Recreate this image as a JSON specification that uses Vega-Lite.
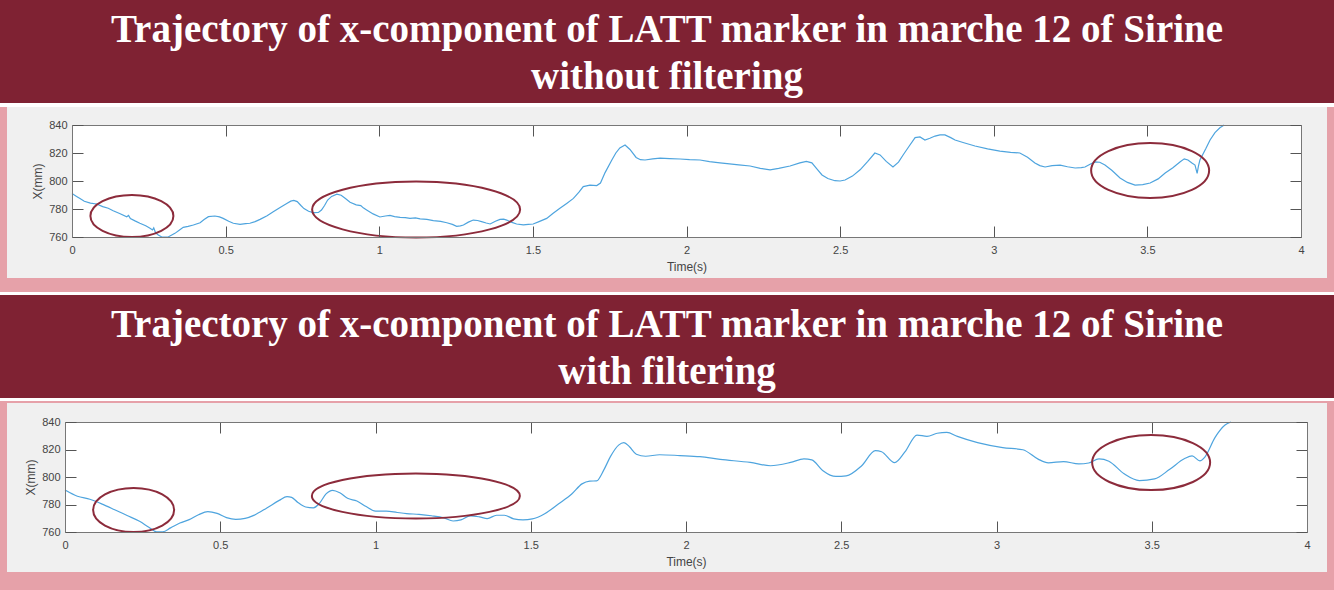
{
  "$schema": "https://vega.github.io/schema/vega-lite/v6.json",
  "background": "#e6a1a9",
  "padding": 0,
  "spacing": 0,
  "bounds": "flush",
  "center": true,
  "config": {"view": {"stroke": null}},
  "datasets": {
    "title1": [
      {"line": 1, "text": "Trajectory of x-component of LATT marker in marche 12 of Sirine"},
      {"line": 2, "text": "without filtering"}
    ],
    "title2": [
      {"line": 1, "text": "Trajectory of x-component of LATT marker in marche 12 of Sirine"},
      {"line": 2, "text": "with filtering"}
    ],
    "raw": [
      {"t":0.000,"v":791},{"t":0.015,"v":789},{"t":0.026,"v":787.5},{"t":0.040,"v":785.5},{"t":0.060,"v":784.2},
      {"t":0.080,"v":783.6},{"t":0.100,"v":781.7},{"t":0.118,"v":780.5},{"t":0.134,"v":778.8},{"t":0.155,"v":776.8},
      {"t":0.178,"v":774.5},{"t":0.184,"v":775.4},{"t":0.190,"v":773.2},{"t":0.205,"v":771.5},{"t":0.221,"v":769.8},
      {"t":0.240,"v":768.0},{"t":0.254,"v":766.2},{"t":0.262,"v":765.0},{"t":0.266,"v":766.5},{"t":0.272,"v":763.0},
      {"t":0.281,"v":761.4},{"t":0.292,"v":760.0},{"t":0.313,"v":760.0},{"t":0.335,"v":762.6},{"t":0.350,"v":765.0},
      {"t":0.362,"v":766.9},{"t":0.378,"v":767.6},{"t":0.395,"v":768.6},{"t":0.417,"v":770.2},{"t":0.430,"v":772.5},
      {"t":0.444,"v":774.5},{"t":0.465,"v":775.0},{"t":0.480,"v":774.4},{"t":0.492,"v":773.3},{"t":0.510,"v":771.2},
      {"t":0.525,"v":769.8},{"t":0.547,"v":769.0},{"t":0.565,"v":769.5},{"t":0.579,"v":769.8},{"t":0.596,"v":771.0},
      {"t":0.612,"v":772.6},{"t":0.635,"v":775.2},{"t":0.655,"v":778.1},{"t":0.680,"v":781.5},{"t":0.699,"v":784.0},
      {"t":0.712,"v":785.6},{"t":0.722,"v":786.2},{"t":0.733,"v":785.3},{"t":0.745,"v":782.5},{"t":0.755,"v":780.3},
      {"t":0.770,"v":778.4},{"t":0.785,"v":777.4},{"t":0.802,"v":777.6},{"t":0.812,"v":779.3},{"t":0.822,"v":782.5},
      {"t":0.832,"v":786.4},{"t":0.845,"v":789.0},{"t":0.862,"v":790.6},{"t":0.876,"v":789.8},{"t":0.890,"v":787.5},
      {"t":0.905,"v":784.8},{"t":0.925,"v":783.0},{"t":0.940,"v":782.4},{"t":0.948,"v":780.8},{"t":0.959,"v":779.3},
      {"t":0.980,"v":776.5},{"t":1.002,"v":774.3},{"t":1.020,"v":775.0},{"t":1.035,"v":775.4},{"t":1.050,"v":774.6},
      {"t":1.068,"v":774.0},{"t":1.085,"v":773.8},{"t":1.100,"v":773.3},{"t":1.118,"v":773.6},{"t":1.133,"v":772.9},
      {"t":1.155,"v":772.6},{"t":1.176,"v":771.7},{"t":1.200,"v":771.2},{"t":1.220,"v":770.2},{"t":1.238,"v":769.0},
      {"t":1.252,"v":767.6},{"t":1.264,"v":768.0},{"t":1.274,"v":768.6},{"t":1.290,"v":770.6},{"t":1.306,"v":772.1},
      {"t":1.320,"v":771.8},{"t":1.333,"v":771.0},{"t":1.348,"v":770.0},{"t":1.361,"v":769.3},{"t":1.378,"v":771.2},
      {"t":1.393,"v":772.6},{"t":1.405,"v":772.8},{"t":1.415,"v":772.1},{"t":1.432,"v":770.4},{"t":1.447,"v":769.3},
      {"t":1.469,"v":768.6},{"t":1.485,"v":769.0},{"t":1.501,"v":769.3},{"t":1.520,"v":771.0},{"t":1.545,"v":773.3},
      {"t":1.565,"v":776.8},{"t":1.588,"v":780.5},{"t":1.610,"v":784.0},{"t":1.632,"v":787.6},{"t":1.650,"v":792.0},
      {"t":1.664,"v":796.0},{"t":1.686,"v":797.1},{"t":1.708,"v":796.7},{"t":1.720,"v":798.5},{"t":1.735,"v":806.0},
      {"t":1.757,"v":815.0},{"t":1.770,"v":820.0},{"t":1.783,"v":823.6},{"t":1.800,"v":825.7},{"t":1.816,"v":822.5},
      {"t":1.836,"v":816.8},{"t":1.850,"v":815.2},{"t":1.865,"v":815.0},{"t":1.890,"v":815.8},{"t":1.914,"v":816.4},
      {"t":1.945,"v":816.0},{"t":1.979,"v":815.7},{"t":2.010,"v":815.2},{"t":2.044,"v":815.0},{"t":2.075,"v":813.8},
      {"t":2.109,"v":812.9},{"t":2.140,"v":812.2},{"t":2.170,"v":811.5},{"t":2.207,"v":810.7},{"t":2.240,"v":809.0},
      {"t":2.272,"v":808.0},{"t":2.300,"v":809.0},{"t":2.337,"v":810.7},{"t":2.369,"v":812.9},{"t":2.390,"v":814.0},
      {"t":2.408,"v":813.0},{"t":2.425,"v":808.5},{"t":2.441,"v":804.3},{"t":2.460,"v":801.8},{"t":2.483,"v":800.2},
      {"t":2.500,"v":800.0},{"t":2.516,"v":800.7},{"t":2.540,"v":803.5},{"t":2.565,"v":808.0},{"t":2.590,"v":814.0},
      {"t":2.613,"v":820.0},{"t":2.630,"v":818.6},{"t":2.650,"v":814.0},{"t":2.672,"v":810.0},{"t":2.690,"v":813.5},
      {"t":2.705,"v":818.6},{"t":2.725,"v":825.0},{"t":2.744,"v":831.0},{"t":2.760,"v":831.5},{"t":2.776,"v":829.3},
      {"t":2.792,"v":830.5},{"t":2.809,"v":832.1},{"t":2.825,"v":833.0},{"t":2.841,"v":832.9},{"t":2.860,"v":831.0},
      {"t":2.874,"v":829.3},{"t":2.900,"v":827.5},{"t":2.939,"v":825.0},{"t":2.980,"v":823.0},{"t":3.020,"v":821.4},
      {"t":3.055,"v":820.5},{"t":3.085,"v":820.0},{"t":3.110,"v":817.0},{"t":3.134,"v":812.9},{"t":3.150,"v":811.0},
      {"t":3.167,"v":810.0},{"t":3.190,"v":811.0},{"t":3.216,"v":811.4},{"t":3.240,"v":810.2},{"t":3.265,"v":809.3},
      {"t":3.285,"v":809.5},{"t":3.297,"v":810.0},{"t":3.315,"v":812.2},{"t":3.330,"v":813.6},{"t":3.345,"v":813.4},
      {"t":3.362,"v":811.4},{"t":3.385,"v":807.5},{"t":3.411,"v":802.1},{"t":3.435,"v":799.0},{"t":3.460,"v":797.1},
      {"t":3.485,"v":797.4},{"t":3.509,"v":798.6},{"t":3.535,"v":801.5},{"t":3.558,"v":805.7},{"t":3.583,"v":809.5},
      {"t":3.606,"v":813.6},{"t":3.620,"v":815.8},{"t":3.632,"v":815.0},{"t":3.645,"v":812.8},{"t":3.655,"v":811.4},
      {"t":3.662,"v":805.5},{"t":3.666,"v":810.5},{"t":3.671,"v":815.0},{"t":3.690,"v":823.0},{"t":3.704,"v":829.3},
      {"t":3.720,"v":834.5},{"t":3.736,"v":838.0},{"t":3.750,"v":840.0}
    ],
    "filtered": [
      {"t":0.000,"v":790.5},{"t":0.040,"v":786},{"t":0.080,"v":783.8},{"t":0.120,"v":780.3},{"t":0.160,"v":776.2},
      {"t":0.200,"v":772},{"t":0.240,"v":767.8},{"t":0.270,"v":763.5},{"t":0.295,"v":760.2},{"t":0.315,"v":760.2},
      {"t":0.340,"v":763},{"t":0.370,"v":766.5},{"t":0.400,"v":769},{"t":0.430,"v":772.5},{"t":0.460,"v":774.8},
      {"t":0.490,"v":773.5},{"t":0.520,"v":770.5},{"t":0.550,"v":769.2},{"t":0.580,"v":769.9},{"t":0.610,"v":772.3},
      {"t":0.650,"v":777.5},{"t":0.690,"v":783},{"t":0.715,"v":785.8},{"t":0.730,"v":785.2},{"t":0.750,"v":781.5},
      {"t":0.775,"v":778.2},{"t":0.800,"v":777.6},{"t":0.820,"v":781},{"t":0.840,"v":787.5},{"t":0.862,"v":790.3},
      {"t":0.885,"v":788.5},{"t":0.910,"v":784.5},{"t":0.940,"v":782.5},{"t":0.970,"v":778.5},{"t":1.000,"v":775.2},
      {"t":1.035,"v":775.2},{"t":1.070,"v":774.2},{"t":1.100,"v":773.4},{"t":1.140,"v":772.8},{"t":1.180,"v":771.8},
      {"t":1.220,"v":770.3},{"t":1.250,"v":768},{"t":1.275,"v":768.8},{"t":1.305,"v":771.8},{"t":1.335,"v":771},
      {"t":1.360,"v":769.8},{"t":1.390,"v":772.2},{"t":1.415,"v":772.2},{"t":1.445,"v":769.6},{"t":1.475,"v":768.8},
      {"t":1.505,"v":769.5},{"t":1.545,"v":773.3},{"t":1.590,"v":780.5},{"t":1.632,"v":787.6},{"t":1.665,"v":795},
      {"t":1.690,"v":797},{"t":1.712,"v":797.2},{"t":1.735,"v":805},{"t":1.757,"v":815},{"t":1.783,"v":823.2},
      {"t":1.800,"v":825},{"t":1.818,"v":822},{"t":1.840,"v":816.6},{"t":1.870,"v":815.1},{"t":1.915,"v":816.2},
      {"t":1.980,"v":815.6},{"t":2.045,"v":814.8},{"t":2.110,"v":812.8},{"t":2.207,"v":810.6},{"t":2.272,"v":808.2},
      {"t":2.337,"v":810.6},{"t":2.380,"v":813.2},{"t":2.405,"v":812.5},{"t":2.440,"v":804.8},{"t":2.483,"v":800.4},
      {"t":2.516,"v":800.8},{"t":2.565,"v":808},{"t":2.610,"v":819.2},{"t":2.630,"v":818.4},{"t":2.672,"v":810.4},
      {"t":2.705,"v":818.2},{"t":2.744,"v":830.5},{"t":2.776,"v":829.6},{"t":2.809,"v":831.8},{"t":2.840,"v":832.5},
      {"t":2.874,"v":829.5},{"t":2.939,"v":825},{"t":3.020,"v":821.4},{"t":3.085,"v":819.8},{"t":3.134,"v":813},
      {"t":3.167,"v":810.3},{"t":3.216,"v":811.2},{"t":3.265,"v":809.5},{"t":3.297,"v":810.2},{"t":3.330,"v":813.2},
      {"t":3.362,"v":811.5},{"t":3.411,"v":802.3},{"t":3.460,"v":797.4},{"t":3.509,"v":798.6},{"t":3.558,"v":805.6},
      {"t":3.606,"v":813.4},{"t":3.630,"v":815.3},{"t":3.655,"v":811.8},{"t":3.671,"v":814.5},{"t":3.704,"v":828.8},
      {"t":3.736,"v":837.8},{"t":3.755,"v":840}
    ]
  },
  "vconcat": [
    {
      "width": 1334, "height": 103,
      "view": {"fill": "#7f2233", "stroke": null},
      "data": {"name": "title1"},
      "mark": {"type": "text", "color": "white", "font": "Liberation Serif", "fontSize": 39, "fontWeight": "bold", "baseline": "middle", "align": "center", "dy": 2},
      "encoding": {
        "text": {"field": "text"},
        "x": {"datum": 0.5, "type": "quantitative", "scale": {"domain": [0, 1]}, "axis": null},
        "y": {"field": "line", "type": "ordinal", "axis": null, "scale": {"type": "point", "padding": 0.596}}
      }
    },
    {
      "width": 1334, "height": 4,
      "view": {"fill": "white", "stroke": null},
      "data": {"values": []}, "mark": "rect", "encoding": {}
    },
    {
      "width": 1320, "height": 171,
      "view": {"fill": "#f0f0f0", "stroke": null},
      "resolve": {"axis": {"x": "independent", "y": "independent"}},
      "layer": [
        {
          "data": {"values": [{}]},
          "mark": {"type": "rect", "fill": "white", "stroke": null},
          "encoding": {
            "x": {"datum": 0, "type": "quantitative", "scale": {"domain": [0, 4], "range": [65, 1294], "nice": false, "zero": false},
                  "axis": {"orient": "top", "offset": -18, "values": [0,0.5,1,1.5,2,2.5,3,3.5,4], "labels": false, "tickSize": -11, "tickColor": "#555", "domainColor": "#777", "title": null, "grid": false, "zindex": 1}},
            "x2": {"datum": 4},
            "y": {"datum": 760, "type": "quantitative", "scale": {"domain": [760, 840], "range": [130, 18], "nice": false, "zero": false},
                  "axis": {"orient": "right", "offset": -26, "values": [760,780,800,820,840], "labels": false, "tickSize": -11, "tickColor": "#555", "domainColor": "#777", "title": null, "grid": false, "zindex": 1}},
            "y2": {"datum": 840}
          }
        },
        {
          "data": {"name": "raw"},
          "mark": {"type": "line", "color": "#4ea4de", "strokeWidth": 1.2, "clip": true},
          "encoding": {
            "x": {"field": "t", "type": "quantitative", "scale": {"domain": [0, 4], "range": [65, 1294], "nice": false, "zero": false},
                  "axis": {"orient": "bottom", "offset": -41, "values": [0,0.5,1,1.5,2,2.5,3,3.5,4], "format": "~g", "tickSize": -11, "tickColor": "#555", "domainColor": "#777", "labelFont": "Liberation Sans", "labelFontSize": 11, "labelColor": "#444", "labelPadding": 18, "labelFlush": false, "labelOverlap": false, "title": "Time(s)", "titleFont": "Liberation Sans", "titleFontSize": 12, "titleFontWeight": "normal", "titleColor": "#444", "titlePadding": 6, "grid": false, "zindex": 1}},
            "y": {"field": "v", "type": "quantitative", "scale": {"domain": [760, 840], "range": [130, 18], "nice": false, "zero": false},
                  "axis": {"orient": "left", "offset": -65, "values": [760,780,800,820,840], "tickSize": -11, "tickColor": "#555", "domainColor": "#777", "labelFont": "Liberation Sans", "labelFontSize": 11, "labelColor": "#444", "labelPadding": 16, "labelFlush": false, "labelOverlap": false, "title": "X(mm)", "titleFont": "Liberation Sans", "titleFontSize": 12, "titleFontWeight": "normal", "titleColor": "#444", "titlePadding": 4, "grid": false, "zindex": 1}}
          }
        },
        {
          "data": {"values": [{"t": 0.195, "v": 775}]},
          "mark": {"type": "point", "shape": "M -41.5 0 A 41.5 21 0 1 1 41.5 0 A 41.5 21 0 1 1 -41.5 0 Z", "size": 4, "filled": false, "stroke": "#8c2b3b", "strokeWidth": 2, "opacity": 1},
          "encoding": {
            "x": {"field": "t", "type": "quantitative", "scale": {"domain": [0, 4], "range": [65, 1294], "nice": false, "zero": false}, "axis": null},
            "y": {"field": "v", "type": "quantitative", "scale": {"domain": [760, 840], "range": [130, 18], "nice": false, "zero": false}, "axis": null}
          }
        },
        {
          "data": {"values": [{"t": 1.120, "v": 779.6}]},
          "mark": {"type": "point", "shape": "M -104 0 A 104 28 0 1 1 104 0 A 104 28 0 1 1 -104 0 Z", "size": 4, "filled": false, "stroke": "#8c2b3b", "strokeWidth": 2, "opacity": 1},
          "encoding": {
            "x": {"field": "t", "type": "quantitative", "scale": {"domain": [0, 4], "range": [65, 1294], "nice": false, "zero": false}, "axis": null},
            "y": {"field": "v", "type": "quantitative", "scale": {"domain": [760, 840], "range": [130, 18], "nice": false, "zero": false}, "axis": null}
          }
        },
        {
          "data": {"values": [{"t": 3.509, "v": 807.5}]},
          "mark": {"type": "point", "shape": "M -59 0 A 59 27.5 0 1 1 59 0 A 59 27.5 0 1 1 -59 0 Z", "size": 4, "filled": false, "stroke": "#8c2b3b", "strokeWidth": 2, "opacity": 1},
          "encoding": {
            "x": {"field": "t", "type": "quantitative", "scale": {"domain": [0, 4], "range": [65, 1294], "nice": false, "zero": false}, "axis": null},
            "y": {"field": "v", "type": "quantitative", "scale": {"domain": [760, 840], "range": [130, 18], "nice": false, "zero": false}, "axis": null}
          }
        }
      ]
    },
    {
      "width": 1334, "height": 14,
      "data": {"values": []}, "mark": "rect", "encoding": {}
    },
    {
      "width": 1334, "height": 3,
      "view": {"fill": "white", "stroke": null},
      "data": {"values": []}, "mark": "rect", "encoding": {}
    },
    {
      "width": 1334, "height": 103,
      "view": {"fill": "#7f2233", "stroke": null},
      "data": {"name": "title2"},
      "mark": {"type": "text", "color": "white", "font": "Liberation Serif", "fontSize": 39, "fontWeight": "bold", "baseline": "middle", "align": "center", "dy": 2},
      "encoding": {
        "text": {"field": "text"},
        "x": {"datum": 0.5, "type": "quantitative", "scale": {"domain": [0, 1]}, "axis": null},
        "y": {"field": "line", "type": "ordinal", "axis": null, "scale": {"type": "point", "padding": 0.596}}
      }
    },
    {
      "width": 1334, "height": 3,
      "view": {"fill": "white", "stroke": null},
      "data": {"values": []}, "mark": "rect", "encoding": {}
    },
    {
      "width": 1334, "height": 2,
      "data": {"values": []}, "mark": "rect", "encoding": {}
    },
    {
      "width": 1320, "height": 169,
      "view": {"fill": "#f0f0f0", "stroke": null},
      "resolve": {"axis": {"x": "independent", "y": "independent"}},
      "layer": [
        {
          "data": {"values": [{}]},
          "mark": {"type": "rect", "fill": "white", "stroke": null},
          "encoding": {
            "x": {"datum": 0, "type": "quantitative", "scale": {"domain": [0, 4], "range": [58, 1300], "nice": false, "zero": false},
                  "axis": {"orient": "top", "offset": -19, "values": [0,0.5,1,1.5,2,2.5,3,3.5,4], "labels": false, "tickSize": -11, "tickColor": "#555", "domainColor": "#777", "title": null, "grid": false, "zindex": 1}},
            "x2": {"datum": 4},
            "y": {"datum": 760, "type": "quantitative", "scale": {"domain": [760, 840], "range": [129, 19], "nice": false, "zero": false},
                  "axis": {"orient": "right", "offset": -20, "values": [760,780,800,820,840], "labels": false, "tickSize": -11, "tickColor": "#555", "domainColor": "#777", "title": null, "grid": false, "zindex": 1}},
            "y2": {"datum": 840}
          }
        },
        {
          "data": {"name": "filtered"},
          "mark": {"type": "line", "color": "#4ea4de", "strokeWidth": 1.2, "clip": true, "interpolate": "monotone"},
          "encoding": {
            "x": {"field": "t", "type": "quantitative", "scale": {"domain": [0, 4], "range": [58, 1300], "nice": false, "zero": false},
                  "axis": {"orient": "bottom", "offset": -40, "values": [0,0.5,1,1.5,2,2.5,3,3.5,4], "format": "~g", "tickSize": -11, "tickColor": "#555", "domainColor": "#777", "labelFont": "Liberation Sans", "labelFontSize": 11, "labelColor": "#444", "labelPadding": 18, "labelFlush": false, "labelOverlap": false, "title": "Time(s)", "titleFont": "Liberation Sans", "titleFontSize": 12, "titleFontWeight": "normal", "titleColor": "#444", "titlePadding": 6, "grid": false, "zindex": 1}},
            "y": {"field": "v", "type": "quantitative", "scale": {"domain": [760, 840], "range": [129, 19], "nice": false, "zero": false},
                  "axis": {"orient": "left", "offset": -58, "values": [760,780,800,820,840], "tickSize": -11, "tickColor": "#555", "domainColor": "#777", "labelFont": "Liberation Sans", "labelFontSize": 11, "labelColor": "#444", "labelPadding": 16, "labelFlush": false, "labelOverlap": false, "title": "X(mm)", "titleFont": "Liberation Sans", "titleFontSize": 12, "titleFontWeight": "normal", "titleColor": "#444", "titlePadding": 4, "grid": false, "zindex": 1}}
          }
        },
        {
          "data": {"values": [{"t": 0.221, "v": 776}]},
          "mark": {"type": "point", "shape": "M -40.5 0 A 40.5 22 0 1 1 40.5 0 A 40.5 22 0 1 1 -40.5 0 Z", "size": 4, "filled": false, "stroke": "#8c2b3b", "strokeWidth": 2, "opacity": 1},
          "encoding": {
            "x": {"field": "t", "type": "quantitative", "scale": {"domain": [0, 4], "range": [58, 1300], "nice": false, "zero": false}, "axis": null},
            "y": {"field": "v", "type": "quantitative", "scale": {"domain": [760, 840], "range": [129, 19], "nice": false, "zero": false}, "axis": null}
          }
        },
        {
          "data": {"values": [{"t": 1.130, "v": 786.2}]},
          "mark": {"type": "point", "shape": "M -104 0 A 104 22.5 0 1 1 104 0 A 104 22.5 0 1 1 -104 0 Z", "size": 4, "filled": false, "stroke": "#8c2b3b", "strokeWidth": 2, "opacity": 1},
          "encoding": {
            "x": {"field": "t", "type": "quantitative", "scale": {"domain": [0, 4], "range": [58, 1300], "nice": false, "zero": false}, "axis": null},
            "y": {"field": "v", "type": "quantitative", "scale": {"domain": [760, 840], "range": [129, 19], "nice": false, "zero": false}, "axis": null}
          }
        },
        {
          "data": {"values": [{"t": 3.498, "v": 810.5}]},
          "mark": {"type": "point", "shape": "M -59 0 A 59 27.5 0 1 1 59 0 A 59 27.5 0 1 1 -59 0 Z", "size": 4, "filled": false, "stroke": "#8c2b3b", "strokeWidth": 2, "opacity": 1},
          "encoding": {
            "x": {"field": "t", "type": "quantitative", "scale": {"domain": [0, 4], "range": [58, 1300], "nice": false, "zero": false}, "axis": null},
            "y": {"field": "v", "type": "quantitative", "scale": {"domain": [760, 840], "range": [129, 19], "nice": false, "zero": false}, "axis": null}
          }
        }
      ]
    },
    {
      "width": 1334, "height": 18,
      "data": {"values": []}, "mark": "rect", "encoding": {}
    }
  ]
}
